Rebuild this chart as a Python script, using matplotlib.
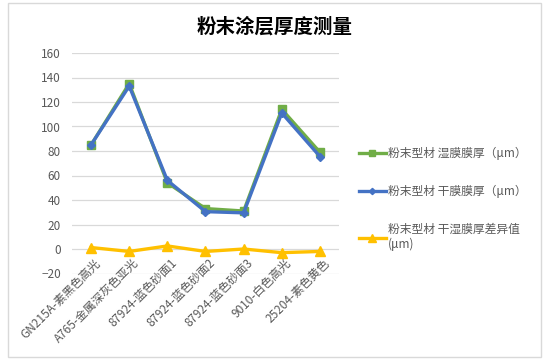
"""
Powder coating thickness chart: wet film vs dry film per sample.
"""

import matplotlib.pyplot as plt
from matplotlib.patches import Rectangle

plt.switch_backend("Agg")
plt.rcParams["font.family"] = ["Noto Sans CJK SC", "DejaVu Sans"]

samples = [
    "GN215A-素黑色高光",
    "A765-金属深灰色亚光",
    "87924-蓝色砂面1",
    "87924-蓝色砂面2",
    "87924-蓝色砂面3",
    "9010-白色高光",
    "25204-素色黄色",
]
wet_film = [85, 135, 54, 33, 31, 114, 79]
dry_film = [85, 133, 56, 30.5, 29.5, 111, 75.5]
film_diff = [1.2, -2, 2.5, -2, 0, -3, -2]
y_ticks = list(range(-20, 161, 20))

label_wet = "粉末型材 湿膜膜厚（μm）"
label_dry = "粉末型材 干膜膜厚（μm）"
label_diff = "粉末型材 干湿膜厚差异值\n(μm)"

fig = plt.figure(figsize=(5.48, 3.64), dpi=100)
fig.patches.append(Rectangle((8 / 548, 7 / 364), 533 / 548, 354 / 364,
                             transform=fig.transFigure, fill=False,
                             edgecolor="#d9d9d9", linewidth=1))
ax = fig.add_axes([72 / 548, 90.5 / 364, 267 / 548, 220.5 / 364])

x = list(range(len(samples)))
ax.plot(x, wet_film, color="#70AD47", linewidth=2.4, marker="s", markersize=6, label=label_wet, zorder=3)
ax.plot(x, dry_film, color="#4472C4", linewidth=2.4, marker="D", markersize=4, label=label_dry, zorder=4)
ax.plot(x, film_diff, color="#FFC000", linewidth=2.4, marker="^", markersize=7, label=label_diff, zorder=3)

ax.set_xlim(-0.5, len(samples) - 0.5)
ax.set_ylim(-20, 160)
ax.set_yticks(y_ticks)
ax.set_xticks([])
ax.tick_params(axis="y", labelsize=8.5, labelcolor="#595959", length=0, pad=8)
ax.grid(axis="y", color="#d9d9d9", linewidth=0.9)
ax.set_axisbelow(True)
for spine in ax.spines.values():
    spine.set_visible(False)

# category labels hang from the value-0 axis, as Excel draws them
for i, name in enumerate(samples):
    ax.text(i + 0.08, -6, name, rotation=45, ha="right", va="top", rotation_mode="anchor",
            fontsize=8.5, color="#595959", clip_on=False)

fig.text(275 / 548, 1 - 27 / 364, "粉末涂层厚度测量", ha="center", va="center",
         fontsize=14, fontweight="bold", color="#000000")

fig.legend(loc="center left", bbox_to_anchor=(348 / 548, 1 - 199 / 364), frameon=False,
           fontsize=8.5, labelcolor="#595959", handlelength=2.3, handletextpad=0.15,
           labelspacing=2.1, markerscale=0.8)

fig.savefig("out.png", dpi=100)
plt.close(fig)
